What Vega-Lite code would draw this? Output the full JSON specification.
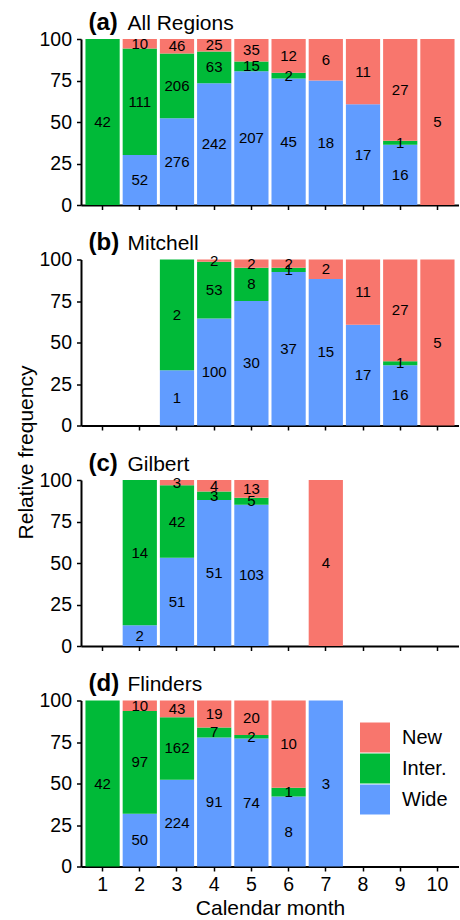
{
  "$schema": "https://vega.github.io/schema/vega-lite/v6.json",
  "padding": {"left": 15, "top": 10, "right": 0, "bottom": 0},
  "datasets": {
    "typeOrder": [
      {"type": "Wide", "stackRank": 1},
      {"type": "Inter.", "stackRank": 2},
      {"type": "New", "stackRank": 3}
    ],
    "counts": [
      {"panel": "a", "month": 1, "type": "Inter.", "n": 42},
      {"panel": "a", "month": 2, "type": "Wide", "n": 52},
      {"panel": "a", "month": 2, "type": "Inter.", "n": 111},
      {"panel": "a", "month": 2, "type": "New", "n": 10},
      {"panel": "a", "month": 3, "type": "Wide", "n": 276},
      {"panel": "a", "month": 3, "type": "Inter.", "n": 206},
      {"panel": "a", "month": 3, "type": "New", "n": 46},
      {"panel": "a", "month": 4, "type": "Wide", "n": 242},
      {"panel": "a", "month": 4, "type": "Inter.", "n": 63},
      {"panel": "a", "month": 4, "type": "New", "n": 25},
      {"panel": "a", "month": 5, "type": "Wide", "n": 207},
      {"panel": "a", "month": 5, "type": "Inter.", "n": 15},
      {"panel": "a", "month": 5, "type": "New", "n": 35},
      {"panel": "a", "month": 6, "type": "Wide", "n": 45},
      {"panel": "a", "month": 6, "type": "Inter.", "n": 2},
      {"panel": "a", "month": 6, "type": "New", "n": 12},
      {"panel": "a", "month": 7, "type": "Wide", "n": 18},
      {"panel": "a", "month": 7, "type": "New", "n": 6},
      {"panel": "a", "month": 8, "type": "Wide", "n": 17},
      {"panel": "a", "month": 8, "type": "New", "n": 11},
      {"panel": "a", "month": 9, "type": "Wide", "n": 16},
      {"panel": "a", "month": 9, "type": "Inter.", "n": 1},
      {"panel": "a", "month": 9, "type": "New", "n": 27},
      {"panel": "a", "month": 10, "type": "New", "n": 5},

      {"panel": "b", "month": 3, "type": "Wide", "n": 1},
      {"panel": "b", "month": 3, "type": "Inter.", "n": 2},
      {"panel": "b", "month": 4, "type": "Wide", "n": 100},
      {"panel": "b", "month": 4, "type": "Inter.", "n": 53},
      {"panel": "b", "month": 4, "type": "New", "n": 2},
      {"panel": "b", "month": 5, "type": "Wide", "n": 30},
      {"panel": "b", "month": 5, "type": "Inter.", "n": 8},
      {"panel": "b", "month": 5, "type": "New", "n": 2},
      {"panel": "b", "month": 6, "type": "Wide", "n": 37},
      {"panel": "b", "month": 6, "type": "Inter.", "n": 1},
      {"panel": "b", "month": 6, "type": "New", "n": 2},
      {"panel": "b", "month": 7, "type": "Wide", "n": 15},
      {"panel": "b", "month": 7, "type": "New", "n": 2},
      {"panel": "b", "month": 8, "type": "Wide", "n": 17},
      {"panel": "b", "month": 8, "type": "New", "n": 11},
      {"panel": "b", "month": 9, "type": "Wide", "n": 16},
      {"panel": "b", "month": 9, "type": "Inter.", "n": 1},
      {"panel": "b", "month": 9, "type": "New", "n": 27},
      {"panel": "b", "month": 10, "type": "New", "n": 5},

      {"panel": "c", "month": 2, "type": "Wide", "n": 2},
      {"panel": "c", "month": 2, "type": "Inter.", "n": 14},
      {"panel": "c", "month": 3, "type": "Wide", "n": 51},
      {"panel": "c", "month": 3, "type": "Inter.", "n": 42},
      {"panel": "c", "month": 3, "type": "New", "n": 3},
      {"panel": "c", "month": 4, "type": "Wide", "n": 51},
      {"panel": "c", "month": 4, "type": "Inter.", "n": 3},
      {"panel": "c", "month": 4, "type": "New", "n": 4},
      {"panel": "c", "month": 5, "type": "Wide", "n": 103},
      {"panel": "c", "month": 5, "type": "Inter.", "n": 5},
      {"panel": "c", "month": 5, "type": "New", "n": 13},
      {"panel": "c", "month": 7, "type": "New", "n": 4},

      {"panel": "d", "month": 1, "type": "Inter.", "n": 42},
      {"panel": "d", "month": 2, "type": "Wide", "n": 50},
      {"panel": "d", "month": 2, "type": "Inter.", "n": 97},
      {"panel": "d", "month": 2, "type": "New", "n": 10},
      {"panel": "d", "month": 3, "type": "Wide", "n": 224},
      {"panel": "d", "month": 3, "type": "Inter.", "n": 162},
      {"panel": "d", "month": 3, "type": "New", "n": 43},
      {"panel": "d", "month": 4, "type": "Wide", "n": 91},
      {"panel": "d", "month": 4, "type": "Inter.", "n": 7},
      {"panel": "d", "month": 4, "type": "New", "n": 19},
      {"panel": "d", "month": 5, "type": "Wide", "n": 74},
      {"panel": "d", "month": 5, "type": "Inter.", "n": 2},
      {"panel": "d", "month": 5, "type": "New", "n": 20},
      {"panel": "d", "month": 6, "type": "Wide", "n": 8},
      {"panel": "d", "month": 6, "type": "Inter.", "n": 1},
      {"panel": "d", "month": 6, "type": "New", "n": 10},
      {"panel": "d", "month": 7, "type": "Wide", "n": 3}
    ]
  },
  "data": {"name": "counts"},
  "spacing": 54.5,
  "bounds": "flush",
  "resolve": {
    "scale": {"x": "independent", "y": "independent", "color": "independent"},
    "legend": {"color": "independent"}
  },
  "config": {
    "font": "Liberation Sans",
    "view": {"stroke": null},
    "axis": {
      "grid": false,
      "domainColor": "black",
      "domainWidth": 2,
      "tickColor": "black",
      "tickWidth": 1.5,
      "tickSize": 4.5,
      "labelColor": "black",
      "labelFontSize": 19.5,
      "labelPadding": 5,
      "titleColor": "black",
      "titleFontSize": 21,
      "titleFontWeight": "normal"
    },
    "axisX": {"labelAngle": 0, "labelPadding": 4},
    "text": {"color": "black"}
  },
  "vconcat": [
    {
      "width": 378, "height": 166,
      "transform": [
        {"filter": {"field": "panel", "equal": "a"}},
        {"lookup": "type", "from": {"data": {"name": "typeOrder"}, "key": "type", "fields": ["stackRank"]}}
      ],
      "resolve": {"axis": {"x": "independent", "y": "independent"}, "scale": {"color": "independent"}},
      "layer": [
        {
          "mark": {"type": "bar"},
          "encoding": {
            "x": {"field": "month", "type": "ordinal", "scale": {"domain": [1,2,3,4,5,6,7,8,9,10], "paddingInner": 0.08, "paddingOuter": 0.12}, "axis": {"orient": "bottom", "title": null, "labels": false}},
            "y": {"field": "n", "type": "quantitative", "stack": "normalize", "scale": {"domain": [0, 1], "nice": false}, "axis": {"orient": "left", "title": null, "values": [0, 0.25, 0.5, 0.75, 1], "labelExpr": "datum.value * 100"}},
            "color": {"field": "type", "type": "nominal", "scale": {"domain": ["New", "Inter.", "Wide"], "range": ["#F8766D", "#00BA38", "#619CFF"]}, "legend": null},
            "order": {"field": "stackRank", "type": "quantitative", "sort": "ascending"}
          }
        },
        {
          "mark": {"type": "text", "fontSize": 15, "baseline": "middle", "align": "center"},
          "encoding": {
            "x": {"field": "month", "type": "ordinal", "axis": {"orient": "top", "title": "All Regions", "domain": false, "ticks": false, "labels": false, "titleX": 46, "titleY": -10, "titleAngle": 0, "titleAlign": "left", "titleBaseline": "alphabetic", "titleFontSize": 21}},
            "y": {"field": "n", "type": "quantitative", "stack": "normalize", "bandPosition": 0.5, "axis": {"orient": "right", "title": "(a)", "domain": false, "ticks": false, "labels": false, "titleX": -371, "titleY": -10, "titleAngle": 0, "titleAlign": "left", "titleBaseline": "alphabetic", "titleFontSize": 24, "titleFontWeight": "bold"}},
            "detail": {"field": "type", "type": "nominal"},
            "order": {"field": "stackRank", "type": "quantitative", "sort": "ascending"},
            "text": {"field": "n", "type": "quantitative"}
          }
        }
      ]
    },
    {
      "width": 378, "height": 166,
      "transform": [
        {"filter": {"field": "panel", "equal": "b"}},
        {"lookup": "type", "from": {"data": {"name": "typeOrder"}, "key": "type", "fields": ["stackRank"]}}
      ],
      "resolve": {"axis": {"x": "independent", "y": "independent"}, "scale": {"color": "independent"}},
      "layer": [
        {
          "mark": {"type": "bar"},
          "encoding": {
            "x": {"field": "month", "type": "ordinal", "scale": {"domain": [1,2,3,4,5,6,7,8,9,10], "paddingInner": 0.08, "paddingOuter": 0.12}, "axis": {"orient": "bottom", "title": null, "labels": false}},
            "y": {"field": "n", "type": "quantitative", "stack": "normalize", "scale": {"domain": [0, 1], "nice": false}, "axis": {"orient": "left", "title": null, "values": [0, 0.25, 0.5, 0.75, 1], "labelExpr": "datum.value * 100"}},
            "color": {"field": "type", "type": "nominal", "scale": {"domain": ["New", "Inter.", "Wide"], "range": ["#F8766D", "#00BA38", "#619CFF"]}, "legend": null},
            "order": {"field": "stackRank", "type": "quantitative", "sort": "ascending"}
          }
        },
        {
          "mark": {"type": "text", "fontSize": 15, "baseline": "middle", "align": "center"},
          "encoding": {
            "x": {"field": "month", "type": "ordinal", "axis": {"orient": "top", "title": "Mitchell", "domain": false, "ticks": false, "labels": false, "titleX": 46, "titleY": -10, "titleAngle": 0, "titleAlign": "left", "titleBaseline": "alphabetic", "titleFontSize": 21}},
            "y": {"field": "n", "type": "quantitative", "stack": "normalize", "bandPosition": 0.5, "axis": {"orient": "right", "title": "(b)", "domain": false, "ticks": false, "labels": false, "titleX": -371, "titleY": -10, "titleAngle": 0, "titleAlign": "left", "titleBaseline": "alphabetic", "titleFontSize": 24, "titleFontWeight": "bold"}},
            "detail": {"field": "type", "type": "nominal"},
            "order": {"field": "stackRank", "type": "quantitative", "sort": "ascending"},
            "text": {"field": "n", "type": "quantitative"}
          }
        }
      ]
    },
    {
      "width": 378, "height": 166,
      "transform": [
        {"filter": {"field": "panel", "equal": "c"}},
        {"lookup": "type", "from": {"data": {"name": "typeOrder"}, "key": "type", "fields": ["stackRank"]}}
      ],
      "resolve": {"axis": {"x": "independent", "y": "independent"}, "scale": {"color": "independent"}},
      "layer": [
        {
          "mark": {"type": "bar"},
          "encoding": {
            "x": {"field": "month", "type": "ordinal", "scale": {"domain": [1,2,3,4,5,6,7,8,9,10], "paddingInner": 0.08, "paddingOuter": 0.12}, "axis": {"orient": "bottom", "title": null, "labels": false}},
            "y": {"field": "n", "type": "quantitative", "stack": "normalize", "scale": {"domain": [0, 1], "nice": false}, "axis": {"orient": "left", "title": "Relative frequency", "titleX": -49, "titleY": -28, "titleAngle": -90, "titleAlign": "center", "titleBaseline": "alphabetic", "titleFontSize": 21, "values": [0, 0.25, 0.5, 0.75, 1], "labelExpr": "datum.value * 100"}},
            "color": {"field": "type", "type": "nominal", "scale": {"domain": ["New", "Inter.", "Wide"], "range": ["#F8766D", "#00BA38", "#619CFF"]}, "legend": null},
            "order": {"field": "stackRank", "type": "quantitative", "sort": "ascending"}
          }
        },
        {
          "mark": {"type": "text", "fontSize": 15, "baseline": "middle", "align": "center"},
          "encoding": {
            "x": {"field": "month", "type": "ordinal", "axis": {"orient": "top", "title": "Gilbert", "domain": false, "ticks": false, "labels": false, "titleX": 46, "titleY": -10, "titleAngle": 0, "titleAlign": "left", "titleBaseline": "alphabetic", "titleFontSize": 21}},
            "y": {"field": "n", "type": "quantitative", "stack": "normalize", "bandPosition": 0.5, "axis": {"orient": "right", "title": "(c)", "domain": false, "ticks": false, "labels": false, "titleX": -371, "titleY": -10, "titleAngle": 0, "titleAlign": "left", "titleBaseline": "alphabetic", "titleFontSize": 24, "titleFontWeight": "bold"}},
            "detail": {"field": "type", "type": "nominal"},
            "order": {"field": "stackRank", "type": "quantitative", "sort": "ascending"},
            "text": {"field": "n", "type": "quantitative"}
          }
        }
      ]
    },
    {
      "width": 378, "height": 166,
      "transform": [
        {"filter": {"field": "panel", "equal": "d"}},
        {"lookup": "type", "from": {"data": {"name": "typeOrder"}, "key": "type", "fields": ["stackRank"]}}
      ],
      "resolve": {"axis": {"x": "independent", "y": "independent"}, "scale": {"color": "independent"}},
      "layer": [
        {
          "mark": {"type": "bar"},
          "encoding": {
            "x": {"field": "month", "type": "ordinal", "scale": {"domain": [1,2,3,4,5,6,7,8,9,10], "paddingInner": 0.08, "paddingOuter": 0.12}, "axis": {"orient": "bottom", "title": "Calendar month", "titlePadding": 4, "labels": true}},
            "y": {"field": "n", "type": "quantitative", "stack": "normalize", "scale": {"domain": [0, 1], "nice": false}, "axis": {"orient": "left", "title": null, "values": [0, 0.25, 0.5, 0.75, 1], "labelExpr": "datum.value * 100"}},
            "color": {"field": "type", "type": "nominal", "scale": {"domain": ["New", "Inter.", "Wide"], "range": ["#F8766D", "#00BA38", "#619CFF"]},
              "legend": {"orient": "none", "legendX": 279, "legendY": 22, "title": null, "padding": 0, "symbolType": "square", "symbolSize": 900, "symbolStrokeWidth": 0, "symbolOpacity": 1, "rowPadding": 1, "labelFontSize": 20, "labelOffset": 12, "labelColor": "black"}},
            "order": {"field": "stackRank", "type": "quantitative", "sort": "ascending"}
          }
        },
        {
          "mark": {"type": "text", "fontSize": 15, "baseline": "middle", "align": "center"},
          "encoding": {
            "x": {"field": "month", "type": "ordinal", "axis": {"orient": "top", "title": "Flinders", "domain": false, "ticks": false, "labels": false, "titleX": 46, "titleY": -10, "titleAngle": 0, "titleAlign": "left", "titleBaseline": "alphabetic", "titleFontSize": 21}},
            "y": {"field": "n", "type": "quantitative", "stack": "normalize", "bandPosition": 0.5, "axis": {"orient": "right", "title": "(d)", "domain": false, "ticks": false, "labels": false, "titleX": -371, "titleY": -10, "titleAngle": 0, "titleAlign": "left", "titleBaseline": "alphabetic", "titleFontSize": 24, "titleFontWeight": "bold"}},
            "detail": {"field": "type", "type": "nominal"},
            "order": {"field": "stackRank", "type": "quantitative", "sort": "ascending"},
            "text": {"field": "n", "type": "quantitative"}
          }
        }
      ]
    }
  ]
}
